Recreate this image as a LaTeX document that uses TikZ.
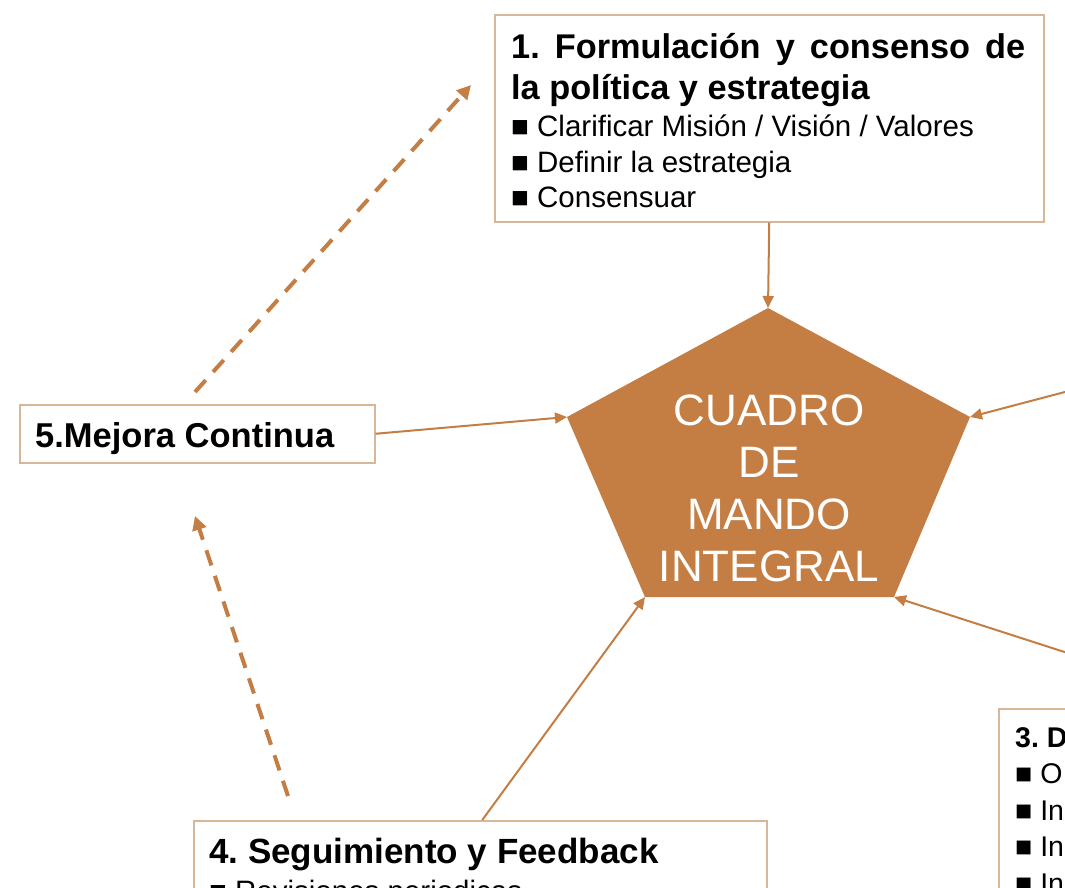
\documentclass[tikz,border=0pt]{standalone}
\usepackage{fontspec}
\setmainfont{Liberation Sans}
\usetikzlibrary{arrows.meta}
\definecolor{brownc}{RGB}{196,126,68}
\definecolor{boxc}{RGB}{216,182,152}
\frenchspacing
\begin{document}
\frenchspacing
\begin{tikzpicture}[x=1pt,y=-1pt,
  box/.style={draw=boxc, line width=1.5pt, rectangle, inner sep=0pt, anchor=north west},
  conn/.style={draw=brownc, line width=2pt, -{Triangle[length=12pt,width=11pt]}},
  dconn/.style={draw=brownc, line width=4pt, dash pattern=on 16pt off 11pt, -{Triangle[length=14pt,width=14pt]}},
  txt/.style={anchor=base west, inner sep=0pt, text=black},
  titlefont/.style={font=\fontsize{34.5}{38}\selectfont\bfseries},
]
\useasboundingbox (0,0) rectangle (1065,887);
\clip (0,0) rectangle (1065,887);

% boxes
\node[box, minimum width=549pt, minimum height=207pt] (b1) at (494,14) {};
\node[box, minimum width=355pt, minimum height=58pt] (b5) at (19,404) {};
\node[box, minimum width=573pt, minimum height=140pt] (b4) at (193,820) {};
\node[box, minimum width=220pt, minimum height=260pt] (b3) at (998,708) {};

% box texts
\node[txt] (t1) at (511,58) {\parbox[t]{514pt}{\fontsize{34.3}{41}\selectfont\bfseries
  1. Formulación y consenso de\linebreak la política y estrategia\par
  \vspace{2pt}\fontsize{29.5}{35.5}\selectfont\mdseries\raggedright
  ■ Clarificar Misión / Visión / Valores\par
  ■ Definir la estrategia\par
  ■ Consensuar}};
\node[txt, titlefont] (t5) at (35,447) {5.Mejora Continua};
\node[txt] (t4) at (209,863) {\parbox[t]{540pt}{\raggedright\fontsize{35}{38}\selectfont\bfseries
  4. Seguimiento y Feedback\par
  \fontsize{29.5}{38}\selectfont\mdseries ■ Revisiones periodicas}};
\node[txt] (t3) at (1015,747) {\parbox[t]{300pt}{\raggedright\fontsize{28.5}{36.5}\selectfont\bfseries
  3. D\par\mdseries ■ O\par ■ In\par ■ In\par ■ In}};

% pentagon
\coordinate (pT) at (768,308);
\coordinate (pR) at (970,417);
\coordinate (pBR) at (894,597);
\coordinate (pBL) at (645,597);
\coordinate (pL) at (567,417);
\fill[brownc] (pT) -- (pR) -- (pBR) -- (pBL) -- (pL) -- cycle;
\node[align=center, text=white, font=\fontsize{44}{52}\selectfont, inner sep=0pt] (cmi) at (769,488)
  {CUADRO\\DE\\MANDO\\INTEGRAL};

% free ends
\coordinate (c2) at (1080,388);
\coordinate (c3) at (1080,657);
\coordinate (d1s) at (195,392);
\coordinate (d1e) at (471,85);
\coordinate (d2s) at (288,796);
\coordinate (d2e) at (195,516);

% connectors
\draw[conn] (b1.south) -- (pT);
\draw[conn] (b5.east) -- (pL);
\draw[conn] (c2) -- (pR);
\draw[conn] (c3) -- (pBR);
\draw[conn] ([xshift=2pt]b4.north) -- (pBL);
\draw[dconn] (d1s) -- (d1e);
\draw[dconn] (d2s) -- (d2e);
\end{tikzpicture}
\end{document}
